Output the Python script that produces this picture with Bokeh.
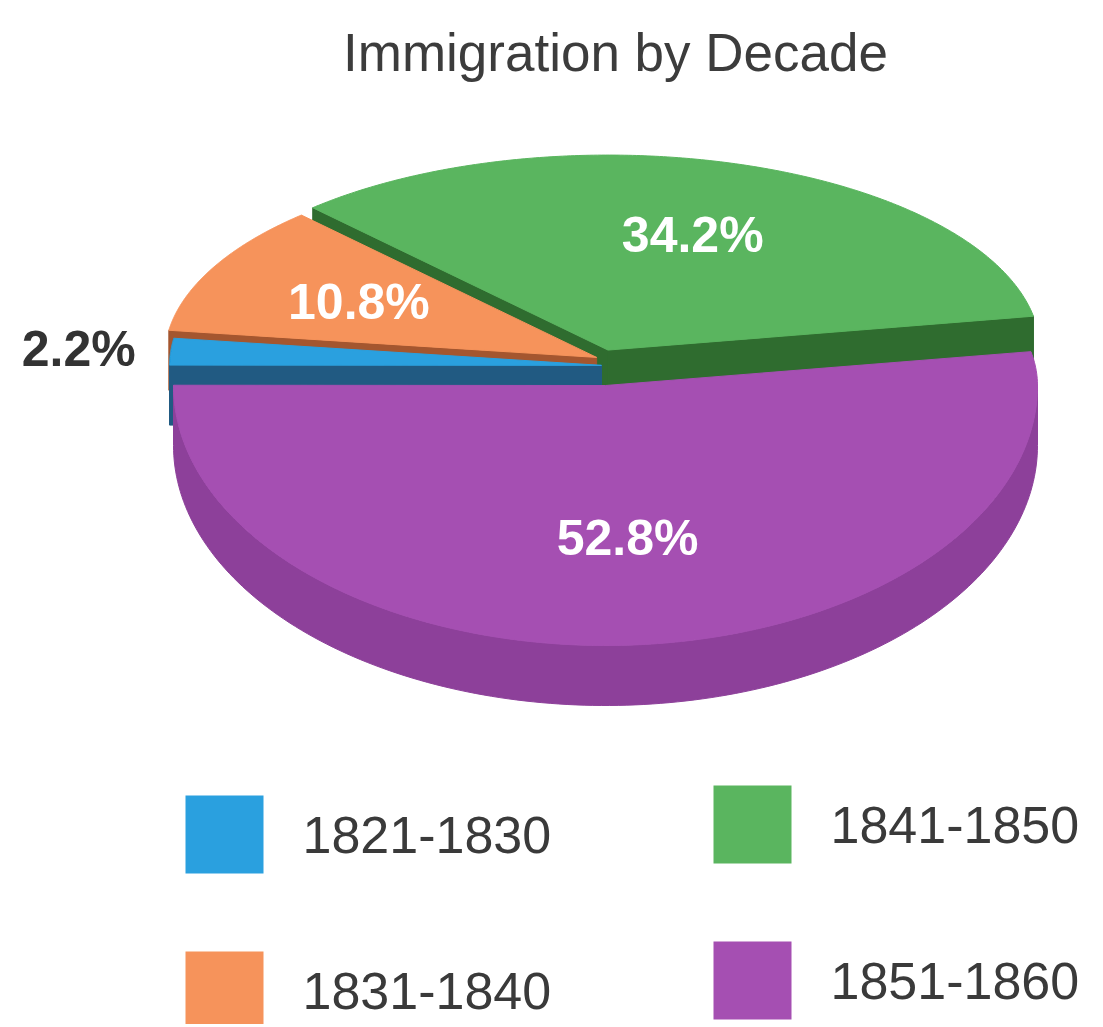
import numpy as np
from bokeh.plotting import figure
from bokeh.models import Range1d
from bokeh.embed import file_html
from bokeh.resources import INLINE
from bokeh.core.properties import value

# ---------------- data ----------------
title = "Immigration by Decade"
decades = ["1821-1830", "1831-1840", "1841-1850", "1851-1860"]
shares = [2.2, 10.8, 34.2, 52.8]
labels = ["2.2%", "10.8%", "34.2%", "52.8%"]

# ---------------- style ----------------
W, H = 1095, 1024
top_col = {"1821-1830": "#2aa0df", "1831-1840": "#f6935b",
           "1841-1850": "#5ab55f", "1851-1860": "#a54fb2"}
side_col = {"1821-1830": "#215a82", "1831-1840": "#a4562f",
            "1841-1850": "#2f6c2f", "1851-1860": "#8d409a"}
sweep_order = ["1841-1850", "1831-1840", "1821-1830", "1851-1860"]  # counter-clockwise
start_deg = 10.0
# perspective-like disc: the near (front) half is drawn taller than the far half
CX, CY, RX, RY_FAR, RY_NEAR, DEPTH = 605.0, 385.0, 432.0, 195.0, 260.0, 60.0
explode = {"1821-1830": 4, "1831-1840": 10, "1841-1850": 8, "1851-1860": 0}
lift = {"1821-1830": 20, "1831-1840": 26, "1841-1850": 32, "1851-1860": 0}
label_frac = {"1821-1830": 1.213, "1831-1840": 0.62, "1841-1850": 0.62, "1851-1860": 0.59}
label_col = {"1821-1830": "#333333", "1831-1840": "white", "1841-1850": "white", "1851-1860": "white"}
FONT = "Liberation Sans"

p = figure(width=W, height=H, output_backend="svg", toolbar_location=None,
           x_range=Range1d(0, W), y_range=Range1d(H, 0),
           min_border=0, outline_line_color=None, background_fill_color="white")
p.axis.visible = False
p.grid.visible = False

share_of = dict(zip(decades, shares))
label_of = dict(zip(decades, labels))

# slice angles
slices = {}
a = start_deg
for d in sweep_order:
    span = share_of[d] / sum(shares) * 360.0
    slices[d] = (a, a + span)
    a += span


def pt(t_deg, dx, dy, frac=1.0):
    t = np.radians(t_deg)
    s = np.sin(t)
    ry = np.where(s >= 0, RY_FAR, RY_NEAR)
    return CX + dx + frac * RX * np.cos(t), CY + dy - frac * ry * s


def offset(d):
    t0, t1 = slices[d]
    m = np.radians((t0 + t1) / 2)
    e = explode[d]
    ry = RY_FAR if np.sin(m) >= 0 else RY_NEAR
    return e * np.cos(m), -e * np.sin(m) * ry / RX - lift[d]


# back to front
draw_order = sorted(decades, key=lambda d: -np.sin(np.radians(sum(slices[d]) / 2)))

for d in draw_order:
    t0, t1 = slices[d]
    dx, dy = offset(d)
    ax, ay = CX + dx, CY + dy
    walls_x, walls_y = [], []
    # radial walls facing the viewer
    for t, vis in ((t0, np.cos(np.radians(t0)) > 0), (t1, np.cos(np.radians(t1)) < 0)):
        if vis:
            ex, ey = pt(t, dx, dy)
            ex, ey = float(ex), float(ey)
            walls_x.append([ax, ex, ex, ax])
            walls_y.append([ay, ey, ey + DEPTH, ay + DEPTH])
    # outer rim, visible on the front half
    for k in range(-1, 2):
        lo = max(t0, 180 + 360 * k)
        hi = min(t1, 360 + 360 * k)
        if hi > lo:
            ts = np.linspace(lo, hi, 160)
            xs, ys = pt(ts, dx, dy)
            walls_x.append(list(xs) + list(xs[::-1]))
            walls_y.append(list(ys) + list((ys + DEPTH)[::-1]))
    if walls_x:
        p.patches(walls_x, walls_y, fill_color=side_col[d], line_color=side_col[d], line_width=1)
    ts = np.linspace(t0, t1, 240)
    xs, ys = pt(ts, dx, dy)
    p.patch([ax] + list(xs), [ay] + list(ys), fill_color=top_col[d],
            line_color=top_col[d], line_width=1)

# slice labels
lx, ly, lt, lc = [], [], [], []
for d in decades:
    t0, t1 = slices[d]
    dx, dy = offset(d)
    x, y = pt((t0 + t1) / 2, dx, dy, label_frac[d])
    lx.append(float(x)); ly.append(float(y)); lt.append(label_of[d]); lc.append(label_col[d])
p.text(x=lx, y=ly, text=lt, text_color=lc, text_font=value(FONT),
       text_font_style="bold", text_font_size="50px",
       text_align="center", text_baseline="middle")

# title
p.text(x=[615], y=[52], text=[title], text_font=value(FONT), text_font_size="53px",
       text_color="#3c3c3c", text_align="center", text_baseline="alphabetic")

# legend (2 x 2 grid)
leg_order = ["1821-1830", "1841-1850", "1831-1840", "1851-1860"]
col_x = [224, 752]
row_y = [834, 990]
col_shift = [0, -10]
sq_x, sq_y, sq_c, tx, ty = [], [], [], [], []
for i, d in enumerate(leg_order):
    cxl = col_x[i % 2]
    cyl = row_y[i // 2] + col_shift[i % 2]
    sq_x.append(cxl); sq_y.append(cyl); sq_c.append(top_col[d])
    tx.append(cxl + 78); ty.append(cyl)
p.rect(x=sq_x, y=sq_y, width=78, height=78, fill_color=sq_c, line_color=None)
p.text(x=tx, y=ty, text=leg_order, text_font=value(FONT), text_font_size="52px",
       text_color="#3a3a3a", text_align="left", text_baseline="middle")

open("out.html", "w").write(file_html(p, INLINE))
